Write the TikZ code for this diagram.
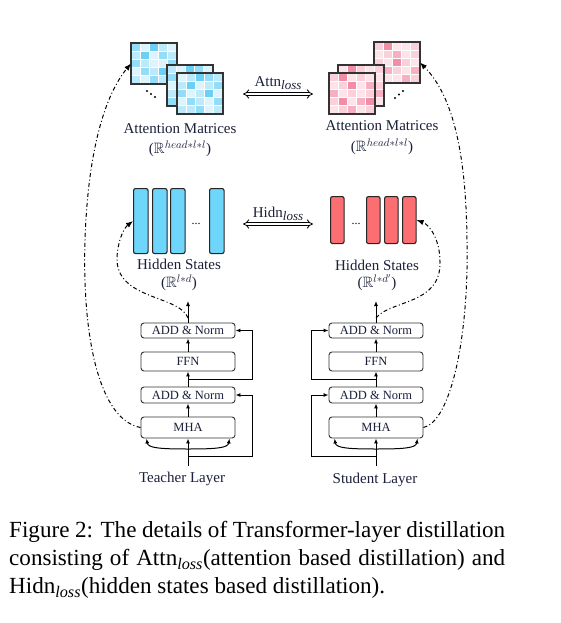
\documentclass[tikz,border=0pt]{standalone}
\usepackage{fontspec}
\setmainfont{Liberation Serif}
\usepackage{amssymb}
\usetikzlibrary{arrows.meta,calc}
\definecolor{txt}{RGB}{28,32,58}
\definecolor{b0}{HTML}{6CD0F5}
\definecolor{b1}{HTML}{93DDF8}
\definecolor{b2}{HTML}{BDEAFA}
\definecolor{b3}{HTML}{DDF4FC}
\definecolor{r0}{HTML}{F28DA6}
\definecolor{r1}{HTML}{F7B0C1}
\definecolor{r2}{HTML}{FAD0DA}
\definecolor{r3}{HTML}{FCE4EA}
\definecolor{hbar}{HTML}{6ED6FB}
\definecolor{sbar}{HTML}{FB6E72}
\definecolor{edge}{HTML}{333333}
\newcommand\attgrid[5]{%
  \foreach \c [count=\i from 0] in {#5} {
    \pgfmathtruncatemacro\gr{\i/5}
    \pgfmathtruncatemacro\gc{mod(\i,5)}
    \fill[#4\c] ({#2+\gc*9.2},{#3+\gr*8.2}) rectangle ++(9.2,8.2);
  }
  \foreach \k in {1,...,4} {
    \draw[white, line width=0.7pt] ({#2+\k*9.2},#3) -- ++(0,41);
    \draw[white, line width=0.7pt] (#2,{#3+\k*8.2}) -- ++(46,0);
  }
  \node[gridbox, anchor=north west] (#1) at (#2,#3) {};
}
\begin{document}
\begin{tikzpicture}[x=1pt,y=-1pt,
  gridbox/.style={draw=edge, line width=1.3pt, minimum width=46pt, minimum height=41pt, inner sep=0, outer sep=0},
  lay/.style={draw=edge, line width=0.9pt, rounded corners=3pt, fill=white, minimum width=94pt, inner sep=0, font=\fontsize{12.5}{14}\selectfont, text=txt},
  tbar/.style={draw=black!85, line width=1.1pt, fill=hbar, rounded corners=2pt, inner sep=0, minimum width=14.5pt, minimum height=65pt, anchor=north west},
  sbar/.style={draw=black!85, line width=1.1pt, fill=sbar, rounded corners=2pt, inner sep=0, minimum width=13.5pt, minimum height=47pt, anchor=north west},
  lbl/.style={font=\fontsize{15}{17}\selectfont, text=txt, inner sep=0, anchor=base},
  mlbl/.style={font=\fontsize{15}{17}\selectfont, text=txt, inner sep=0},
  arr/.style={-{Latex[length=5pt,width=4pt]}, line width=1pt},
  dd/.style={-{Latex[length=7pt,width=5.5pt]}, line width=1pt, dash pattern=on 4pt off 2.5pt on 1pt off 2.5pt},
  dbl/.style={double=white, double distance=2.4pt, line width=0.8pt, {Implies}-{Implies}}]
\useasboundingbox (0,0) rectangle (561,623);
\fill[white] (0,0) rectangle (561,623);

% ---------- attention matrices ----------
\attgrid{tA1}{131}{43}{b}{1,3,0,2,3, 2,0,3,1,2, 1,2,3,3,1, 3,1,2,0,3, 2,3,1,2,2}
\attgrid{tA2}{167}{65}{b}{2,3,0,1,3, 1,2,3,2,2, 3,1,2,3,1, 2,3,1,2,3, 1,2,3,1,2}
\attgrid{tA3}{177}{73}{b}{3,2,0,1,2, 2,0,3,2,1, 1,3,2,0,3, 3,1,2,3,1, 2,2,1,3,2}
\attgrid{sA1}{374}{42}{r}{2,0,3,3,2, 3,2,1,3,2, 2,3,0,2,3, 3,1,2,3,1, 2,3,3,1,2}
\attgrid{sA2}{338}{65}{r}{3,0,2,3,2, 2,3,1,2,3, 3,2,3,1,2, 2,3,2,3,1, 3,2,1,2,3}
\attgrid{sA3}{329}{73}{r}{2,0,3,2,3, 3,2,0,3,1, 1,3,2,3,2, 2,0,3,1,0, 3,2,1,3,2}
\foreach \p in {(147,91),(151,94),(155,97),(395,98),(399,94.5),(403,91)} \fill \p circle (1.1);
\node[lbl] (tAl) at (180,133) {Attention Matrices};
\node[lbl] (sAl) at (382,131) {Attention Matrices};
\node[mlbl] (tAm) at (180,148.5) {($\mathbb{R}^{head*l*l}$)};
\node[mlbl] (sAm) at (382,146.5) {($\mathbb{R}^{head*l*l}$)};

% loss arrows
\node[lbl] (attn) at (278,87) {Attn\raisebox{-3pt}{\fontsize{13}{14}\selectfont\itshape loss}};
\node[lbl] (hidn) at (278,217) {Hidn\raisebox{-3pt}{\fontsize{13}{14}\selectfont\itshape loss}};
\coordinate (aL) at (243,94); \coordinate (aR) at (313,94);
\coordinate (hL) at (243,224); \coordinate (hR) at (313,224);
\draw[dbl] (aL) -- (aR);
\draw[dbl] (hL) -- (hR);

% ---------- hidden states ----------
\node[tbar] (tb1) at (133,188) {};
\node[tbar] (tb2) at (152,188) {};
\node[tbar] (tb3) at (170,188) {};
\node[tbar] (tb4) at (209,188) {};
\node[sbar] (sb1) at (330,196) {};
\node[sbar] (sb2) at (366,196) {};
\node[sbar] (sb3) at (384,196) {};
\node[sbar] (sb4) at (402,196) {};
\node[font=\fontsize{12}{14}\selectfont, inner sep=0, anchor=base] (tdots) at (196,224) {...};
\node[font=\fontsize{12}{14}\selectfont, inner sep=0, anchor=base] (sdots) at (356,224) {...};
\node[lbl] (tHl) at (179,269) {Hidden States};
\node[lbl] (sHl) at (377,270) {Hidden States};
\node[mlbl] (tHm) at (179,283) {($\mathbb{R}^{l*d}$)};
\node[mlbl] (sHm) at (377,283) {($\mathbb{R}^{l*d'}$)};

% ---------- teacher layer ----------
\node[lay, minimum height=15pt] (tadd1) at (188,330.5) {ADD \& Norm};
\node[lay, minimum height=19pt] (tffn) at (188,361.5) {FFN};
\node[lay, minimum height=16pt] (tadd2) at (188,395) {ADD \& Norm};
\node[lay, minimum height=21pt] (tmha) at (188,427.5) {MHA};
\node[lbl] (tlayer) at (182,482) {Teacher Layer};
\coordinate (tin) at (188,466);
\coordinate (tsplit) at (188,449);
\coordinate (tres1) at (188,456);
\coordinate (tres2) at (188,379);
\coordinate (ttop) at (188,301);
\draw[arr] (tin) -- (tmha.south);
\draw[arr] (tsplit) .. controls (160,449) and (148,448) .. ($(tmha.south west)+(6,0)$);
\draw[arr] (tsplit) .. controls (216,449) and (228,448) .. ($(tmha.south east)+(-6,0)$);
\draw[arr] (tres1) -| ($(tadd2.east)+(17,0)$) -- (tadd2.east);
\draw[arr] (tres2) -| ($(tadd1.east)+(17,0)$) -- (tadd1.east);
\draw[arr] (tmha.north) -- (tadd2.south);
\draw[arr] (tadd2.north) -- (tffn.south);
\draw[arr] (tffn.north) -- (tadd1.south);
\draw[arr] (tadd1.north) -- (ttop);

% ---------- student layer ----------
\node[lay, minimum height=15pt] (sadd1) at (376,330.5) {ADD \& Norm};
\node[lay, minimum height=19pt] (sffn) at (376,361.5) {FFN};
\node[lay, minimum height=16pt] (sadd2) at (376,395) {ADD \& Norm};
\node[lay, minimum height=21pt] (smha) at (376,427.5) {MHA};
\node[lbl] (slayer) at (375,483) {Student Layer};
\coordinate (sin) at (376,466);
\coordinate (ssplit) at (376,449);
\coordinate (sres1) at (376,456);
\coordinate (sres2) at (376,379);
\coordinate (stop) at (376,301);
\draw[arr] (sin) -- (smha.south);
\draw[arr] (ssplit) .. controls (348,449) and (336,448) .. ($(smha.south west)+(6,0)$);
\draw[arr] (ssplit) .. controls (404,449) and (416,448) .. ($(smha.south east)+(-6,0)$);
\draw[arr] (sres1) -| ($(sadd2.west)+(-17,0)$) -- (sadd2.west);
\draw[arr] (sres2) -| ($(sadd1.west)+(-17,0)$) -- (sadd1.west);
\draw[arr] (smha.north) -- (sadd2.south);
\draw[arr] (sadd2.north) -- (sffn.south);
\draw[arr] (sffn.north) -- (sadd1.south);
\draw[arr] (sadd1.north) -- (stop);

% ---------- dash-dot distillation curves ----------
\coordinate (thid) at (188,318);
\coordinate (shid) at (376,318);
\draw[dd] (tmha.west) .. controls (100,420) and (82,340) .. (85,240) .. controls (88,150) and (105,95) .. (tA1.west);
\draw[dd] (smha.east) .. controls (450,422) and (469,340) .. (467,240) .. controls (466,150) and (452,95) .. (sA1.east);
\draw[dd] (thid) .. controls (180,295) and (115,300) .. (117,257) .. controls (118,240) and (124,228) .. (tb1.west);
\draw[dd] (shid) .. controls (390,300) and (441,305) .. (440,262) .. controls (440,240) and (430,225) .. (sb4.east);

% ---------- caption ----------
\node[anchor=north west, text width=496pt, inner sep=0, align=justify, font=\fontsize{23.1}{28}\selectfont] (cap) at (9,521.5) {Figure 2: The details of Transformer-layer distillation consisting of Attn\textsubscript{\textit{loss}}(attention based distillation) and Hidn\textsubscript{\textit{loss}}(hidden states based distillation).};
\end{tikzpicture}
\end{document}
